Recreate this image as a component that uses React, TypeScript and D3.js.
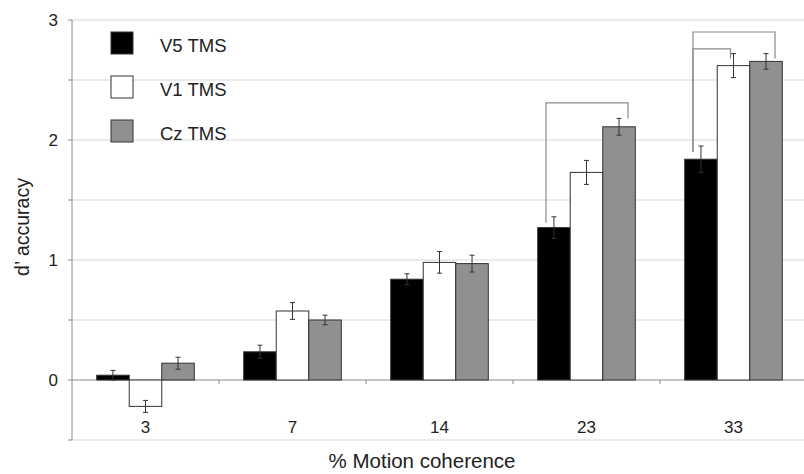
import React from 'react';
import * as d3 from 'd3';

const categories = ['3', '7', '14', '23', '33'];
const series = ['V5 TMS', 'V1 TMS', 'Cz TMS'];
const v5Values = [0.04, 0.235, 0.84, 1.27, 1.84];
const v1Values = [-0.22, 0.575, 0.98, 1.73, 2.62];
const czValues = [0.14, 0.5, 0.97, 2.11, 2.655];
const v5Errors = [0.04, 0.055, 0.045, 0.09, 0.11];
const v1Errors = [0.05, 0.07, 0.09, 0.1, 0.1];
const czErrors = [0.05, 0.04, 0.07, 0.07, 0.065];
const yTicks = [-0.5, 0, 0.5, 1, 1.5, 2, 2.5, 3];
const yLabels = [0, 1, 2, 3];

// significance brackets: category, from series, to series, bracket height, end heights
const brackets = [
  { cat: '23', from: 0, to: 2, top: 2.31, fromEnd: 1.31, toEnd: 2.18 },
  { cat: '33', from: 0, to: 2, top: 2.9, fromEnd: 1.9, toEnd: 2.68 },
  { cat: '33', from: 0, to: 1, top: 2.76, fromEnd: 1.9, toEnd: 2.68 },
];

const colors = ['#000000', '#ffffff', '#909090'];
const font = 'Liberation Sans, Arial, Helvetica, sans-serif';

const W = 804;
const H = 474;
const left = 72;
const right = 807;

export default function App() {
  const values = [v5Values, v1Values, czValues];
  const errors = [v5Errors, v1Errors, czErrors];

  const y = d3.scaleLinear().domain([-0.5, 3]).range([440, 20]);
  const x = d3.scaleBand().domain(categories).range([left, right]).padding(0);
  const step = x.bandwidth();
  const inner = d3
    .scaleBand()
    .domain(series)
    .range([step * 0.168, step * 0.832])
    .padding(0);
  const bw = inner.bandwidth();

  const barX = (c: string, s: number) => (x(c) as number) + (inner(series[s]) as number);
  const bracketX = (c: string, s: number) => {
    const cx = barX(c, s) + bw / 2;
    if (s === 0) return cx - 8;
    return cx + 9;
  };

  return (
    <svg width={W} height={H} style={{ position: 'absolute', left: 0, top: 0, background: '#fff' }}>
      {/* grid */}
      {yTicks.map((t) => (
        <line key={'g' + t} x1={left} x2={W} y1={y(t)} y2={y(t)} stroke={t === 0 ? '#888' : '#d6d6d6'} strokeWidth={1} />
      ))}
      {/* y axis */}
      <line x1={left} x2={left} y1={y(3)} y2={y(-0.5)} stroke="#888" />
      {yTicks.map((t) => (
        <line key={'yt' + t} x1={left - 4} x2={left} y1={y(t)} y2={y(t)} stroke="#888" />
      ))}
      {yLabels.map((t) => (
        <text key={'yl' + t} x={left - 14} y={y(t)} dy="0.36em" textAnchor="end" fontFamily={font} fontSize={17} fill="#222">
          {t}
        </text>
      ))}
      {/* x ticks on zero line */}
      {categories.slice(1).map((c) => (
        <line key={'xt' + c} x1={x(c) as number} x2={x(c) as number} y1={y(0)} y2={y(0) + 4} stroke="#888" />
      ))}
      {categories.map((c) => (
        <text key={'xl' + c} x={(x(c) as number) + step / 2} y={427} dy="0.36em" textAnchor="middle" fontFamily={font} fontSize={17} fill="#222">
          {c}
        </text>
      ))}
      {/* bars */}
      {series.map((s, si) =>
        categories.map((c, ci) => {
          const v = values[si][ci];
          return (
            <rect
              key={s + c}
              x={barX(c, si)}
              y={y(Math.max(0, v))}
              width={bw}
              height={Math.abs(y(v) - y(0))}
              fill={colors[si]}
              stroke="#333"
              strokeWidth={1}
            />
          );
        })
      )}
      {/* error bars */}
      {series.map((s, si) =>
        categories.map((c, ci) => {
          const v = values[si][ci];
          const e = errors[si][ci];
          const cx = barX(c, si) + bw / 2;
          return (
            <g key={'e' + s + c} stroke="#333" strokeWidth={1}>
              <line x1={cx} x2={cx} y1={y(v + e)} y2={y(v - e)} />
              <line x1={cx - 2.5} x2={cx + 2.5} y1={y(v + e)} y2={y(v + e)} />
              <line x1={cx - 2.5} x2={cx + 2.5} y1={y(v - e)} y2={y(v - e)} />
            </g>
          );
        })
      )}
      {/* brackets */}
      {brackets.map((b, i) => {
        const x1 = bracketX(b.cat, b.from);
        const x2 = bracketX(b.cat, b.to) - (b.to === 1 ? 12 : 0);
        return (
          <path
            key={'b' + i}
            d={`M${x1},${y(b.fromEnd)}V${y(b.top)}H${x2}V${y(b.toEnd)}`}
            fill="none"
            stroke="#8a8a8a"
            strokeWidth={1.2}
          />
        );
      })}
      {/* legend */}
      {series.map((s, si) => (
        <g key={'lg' + s} transform={`translate(111, ${32 + si * 44})`}>
          <rect x={0} y={0} width={22} height={22} fill={colors[si]} stroke="#333" strokeWidth={1} />
          <text x={49} y={20} fontFamily={font} fontSize={18.5} fill="#222">
            {s}
          </text>
        </g>
      ))}
      {/* axis titles */}
      <text transform={`translate(29, 227) rotate(-90)`} textAnchor="middle" fontFamily={font} fontSize={19.5} fill="#222">
        d’ accuracy
      </text>
      <text x={422} y={468} textAnchor="middle" fontFamily={font} fontSize={20.5} fill="#222">
        % Motion coherence
      </text>
    </svg>
  );
}
